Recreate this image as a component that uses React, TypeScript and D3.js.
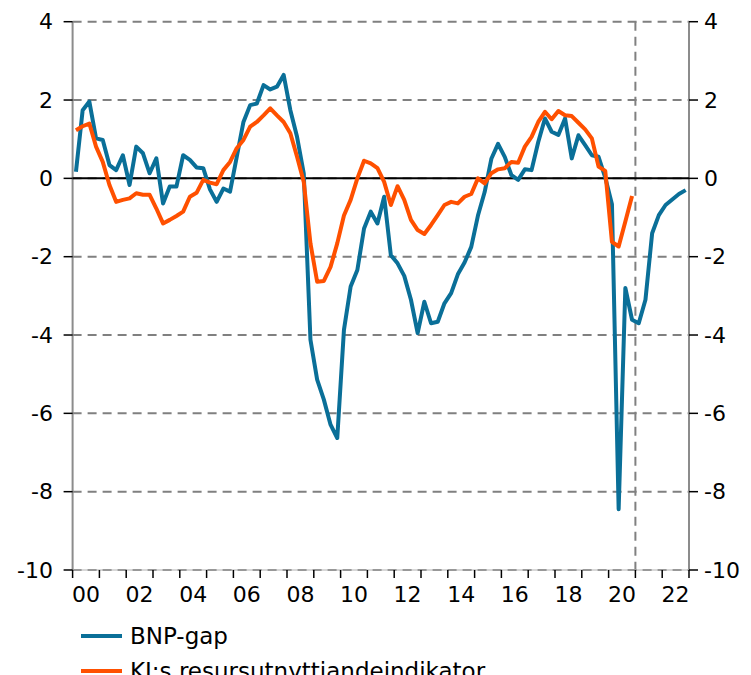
import * as d3 from "d3";

// quarterly values, 2000Q1 onwards
const bnpGap = [
  0.17, 1.74, 1.96, 1.02,
  0.98, 0.34, 0.21, 0.59,
  -0.17, 0.81, 0.64, 0.13,
  0.51, -0.64, -0.21, -0.21,
  0.59, 0.47, 0.28, 0.26,
  -0.28, -0.6, -0.26, -0.34,
  0.55, 1.44, 1.87, 1.91,
  2.38, 2.27, 2.34, 2.64,
  1.74, 1.06, 0.13, -4.12,
  -5.14, -5.65, -6.29, -6.63,
  -3.87, -2.76, -2.34, -1.28,
  -0.85, -1.15, -0.47, -1.96,
  -2.17, -2.49, -3.1, -3.95,
  -3.15, -3.7, -3.66, -3.19,
  -2.93, -2.45, -2.15, -1.75,
  -0.95, -0.35, 0.5, 0.88,
  0.55, 0.08, -0.04, 0.23,
  0.21, 0.93, 1.53, 1.19,
  1.11, 1.53, 0.51, 1.1,
  0.85, 0.59, 0.55, 0.02,
  -0.66, -8.45, -2.8, -3.61,
  -3.7, -3.1, -1.4, -0.94,
  -0.68, -0.54, -0.4, -0.3,
];

const kiIndicator = [
  1.23, 1.33, 1.4, 0.81,
  0.42, -0.17, -0.6, -0.55,
  -0.51, -0.38, -0.42, -0.42,
  -0.77, -1.15, -1.06, -0.96,
  -0.85, -0.47, -0.37, -0.04,
  -0.11, -0.15, 0.21, 0.42,
  0.77, 0.98, 1.32, 1.44,
  1.61, 1.79, 1.61, 1.44,
  1.15, 0.55, -0.09, -1.66,
  -2.64, -2.62, -2.26, -1.66,
  -0.95, -0.55, 0.0, 0.45,
  0.38, 0.26, -0.09, -0.68,
  -0.2, -0.55, -1.06, -1.32,
  -1.42, -1.19, -0.94, -0.68,
  -0.6, -0.64, -0.47, -0.4,
  0.0, -0.13, 0.13, 0.23,
  0.26, 0.42, 0.4, 0.81,
  1.06, 1.44, 1.7, 1.51,
  1.72, 1.61, 1.59, 1.42,
  1.25, 1.02, 0.3, 0.19,
  -1.62, -1.74, -1.1, -0.45,
];

const yTicks = [4, 2, 0, -2, -4, -6, -8, -10];
const xLabels = ["00", "02", "04", "06", "08", "10", "12", "14", "16", "18", "20", "22"];
const firstYear = 2000;
const lastYear = 2023;
const forecastStart = 2021;

const seriesInfo = [
  { name: "BNP-gap", color: "#0a6f98", values: bnpGap },
  { name: "KI:s resursutnyttjandeindikator", color: "#ff5000", values: kiIndicator },
];

const font = "DejaVu Sans, Verdana, sans-serif";

export default function App() {
  const width = 751;
  const height = 675;
  const left = 72.6;
  const right = 689;
  const top = 21.7;
  const bottom = 570;

  const x = d3.scaleLinear().domain([firstYear, lastYear]).range([left, right]);
  const y = d3.scaleLinear().domain([-10, 4]).range([bottom, top]);

  // quarter i sits in the middle of its quarter
  const qx = (i: number) => x(firstYear + (i + 0.5) / 4);

  const line = d3
    .line<number>()
    .x((_, i) => qx(i))
    .y((d) => y(d));

  const years = d3.range(firstYear, lastYear + 1);

  return (
    <svg
      width={width}
      height={height}
      style={{ position: "absolute", left: 0, top: 0, background: "#fff" }}
      fontFamily={font}
    >
      {/* grid */}
      {yTicks.map((t) => (
        <line
          key={"g" + t}
          x1={left}
          x2={right}
          y1={y(t)}
          y2={y(t)}
          stroke="#808080"
          strokeWidth={2}
          strokeDasharray="9,6"
        />
      ))}
      <line
        x1={x(forecastStart)}
        x2={x(forecastStart)}
        y1={top}
        y2={bottom}
        stroke="#808080"
        strokeWidth={2}
        strokeDasharray="9,6"
      />

      {/* axes */}
      <line x1={left} x2={left} y1={top} y2={bottom} stroke="#8c8c8c" strokeWidth={2} />
      <line x1={right} x2={right} y1={top} y2={bottom} stroke="#8c8c8c" strokeWidth={2} />
      <line x1={left} x2={right} y1={bottom} y2={bottom} stroke="#b0b0b0" strokeWidth={1} />
      <line x1={left} x2={right} y1={y(0)} y2={y(0)} stroke="#000" strokeWidth={2} />

      {yTicks.map((t) => (
        <g key={"t" + t}>
          <line x1={left - 9} x2={left} y1={y(t)} y2={y(t)} stroke="#000" strokeWidth={1.5} />
          <line x1={right} x2={right + 9} y1={y(t)} y2={y(t)} stroke="#000" strokeWidth={1.5} />
          <text
            x={53}
            y={y(t)}
            textAnchor="end"
            dominantBaseline="central"
            fontSize={22}
            fill="#000"
          >
            {t}
          </text>
          <text
            x={704}
            y={y(t)}
            textAnchor="start"
            dominantBaseline="central"
            fontSize={22}
            fill="#000"
          >
            {t}
          </text>
        </g>
      ))}

      {years.map((yr) => (
        <line
          key={"x" + yr}
          x1={x(yr)}
          x2={x(yr)}
          y1={bottom}
          y2={bottom + 8}
          stroke="#000"
          strokeWidth={1.5}
        />
      ))}
      {xLabels.map((lab, i) => (
        <text
          key={lab}
          x={x(firstYear + i * 2 + 0.5)}
          y={602}
          textAnchor="middle"
          fontSize={22}
          fill="#000"
        >
          {lab}
        </text>
      ))}

      {/* series */}
      {seriesInfo.map((s) => (
        <path
          key={s.name}
          d={line(s.values) ?? ""}
          fill="none"
          stroke={s.color}
          strokeWidth={4}
          strokeLinejoin="round"
        />
      ))}

      {/* legend */}
      {seriesInfo.map((s, i) => (
        <g key={"l" + s.name} transform={`translate(0,${636 + i * 35})`}>
          <line x1={81} x2={122} y1={0} y2={0} stroke={s.color} strokeWidth={4} />
          <text x={130} y={0} dominantBaseline="central" fontSize={23} fill="#000">
            {s.name}
          </text>
        </g>
      ))}
    </svg>
  );
}
